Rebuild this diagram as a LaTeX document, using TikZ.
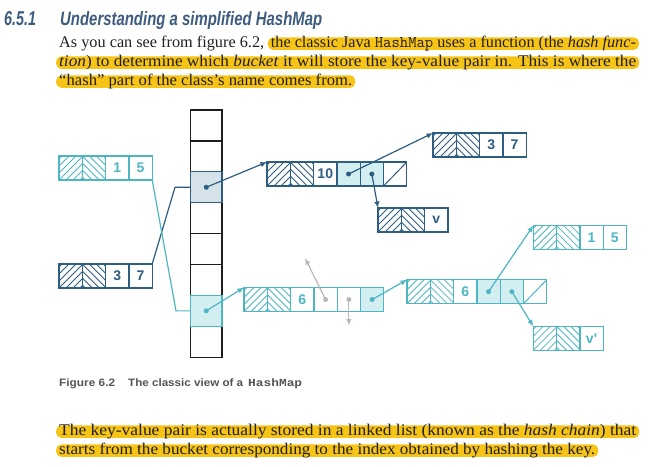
\documentclass[tikz,border=0pt]{standalone}
\usepackage{fontspec}
\usepackage{graphicx}
\usetikzlibrary{arrows.meta,calc}
\newfontfamily\headfont{Liberation Sans}
\newfontfamily\capmono{Liberation Mono}
\newfontfamily\serifbody{Liberation Serif}
\definecolor{dk}{HTML}{2E5D82}
\definecolor{tl}{HTML}{4DB6C3}
\definecolor{tlfill}{HTML}{D3EEF1}
\definecolor{dkfill}{HTML}{D6E2E9}
\definecolor{gr}{HTML}{B8B8B8}
\definecolor{hl}{HTML}{F6C417}
\definecolor{headc}{HTML}{3E5C80}
\definecolor{capc}{HTML}{555555}
\definecolor{bk}{HTML}{1E1E1E}
\definecolor{txt}{HTML}{231F20}
\newcommand\bodyfont{\serifbody\fontsize{16.3}{19}\selectfont\color{txt}}
\begin{document}
\begin{tikzpicture}[x=1pt,y=-1pt,
  cellc/.style={draw=#1, text=#1, line width=1.3pt, minimum width=23.3pt, minimum height=24pt,
    inner sep=0pt, outer sep=0pt, anchor=west, font=\headfont\bfseries\fontsize{14}{14}\selectfont},
  hR/.style={path picture={\foreach \i in {-28,-21,...,28}{\draw[#1,line width=0.8pt]
      ([xshift=\i pt]path picture bounding box.south west) -- ++(24pt,24pt);}}},
  hL/.style={path picture={\foreach \i in {-28,-21,...,28}{\draw[#1,line width=0.8pt]
      ([xshift=\i pt]path picture bounding box.north west) -- ++(24pt,-24pt);}}},
  slash/.style={path picture={\draw[#1,line width=1pt]
      (path picture bounding box.south west) -- (path picture bounding box.north east);}},
  bucket/.style={draw=bk, line width=1.3pt, minimum width=31.5pt, minimum height=30.9pt,
    inner sep=0pt, outer sep=0pt, anchor=north},
  conn/.style={draw=#1, line width=1.2pt},
  arr/.style={draw=#1, line width=1.2pt, -{Latex[length=6.5pt,width=5.5pt]}},
  hlbox/.style={fill=hl, rounded corners=5pt, inner xsep=3pt, inner ysep=0pt,
    text height=9.6pt, text depth=2.8pt, anchor=base west, font=\bodyfont},
  plain/.style={inner sep=0pt, anchor=base west, font=\bodyfont}
]
\useasboundingbox (0,0) rectangle (656,466);
\fill[white] (0,0) rectangle (656,466);

% heading
\node[inner sep=0pt, anchor=base west, text=headc] (hnum) at (4,25)
  {\resizebox{32pt}{14pt}{\headfont\bfseries\itshape 6.5.1}};
\node[inner sep=0pt, anchor=base west, text=headc] (htitle) at (60,25)
  {\resizebox{262pt}{14pt}{\headfont\bfseries\itshape Understanding a simplified HashMap}};

% top paragraph
\node[plain] (l1a) at (59,47) {\resizebox{205pt}{\height}{As you can see from figure 6.2,}};
\node[hlbox] (l1b) at (267.7,47) {\resizebox{365pt}{\height}{the classic Java \texttt{HashMap} uses a function (the \textit{hash func-}}};
\node[hlbox] (l2) at (56,66) {\resizebox{577pt}{\height}{\textit{tion}) to determine which \textit{bucket} it will store the key-value pair in. This is where the}};
\node[hlbox] (l3) at (56,85) {\resizebox{293pt}{\height}{“hash” part of the class’s name comes from.}};

% bucket array
\node[bucket] (k1) at (206.25,110) {};
\node[bucket] (k2) at (k1.south) {};
\node[bucket, fill=dkfill] (k3) at (k2.south) {};
\node[bucket] (k4) at (k3.south) {};
\node[bucket] (k5) at (k4.south) {};
\node[bucket] (k6) at (k5.south) {};
\node[bucket, fill=tlfill] (k7) at (k6.south) {};
\node[bucket] (k8) at (k7.south) {};
\draw[dk, line width=1.3pt] (k3.north west) rectangle (k3.south east);
\draw[tl, line width=1.3pt] (k7.north west) rectangle (k7.south east);

% entry A (dark, 10)
\node[cellc=dk, hR=dk] (a1) at (267,174) {};
\node[cellc=dk, hL=dk] (a2) at (a1.east) {};
\node[cellc=dk] (a3) at (a2.east) {10};
\node[cellc=dk, fill=tlfill] (a4) at (a3.east) {};
\node[cellc=dk, fill=tlfill] (a5) at (a4.east) {};
\node[cellc=dk, slash=dk] (a6) at (a5.east) {};
% entry B (dark, 3 7 top right)
\node[cellc=dk, hR=dk] (b1) at (433,145) {};
\node[cellc=dk, hL=dk] (b2) at (b1.east) {};
\node[cellc=dk] (b3) at (b2.east) {3};
\node[cellc=dk] (b4) at (b3.east) {7};
% entry C (dark, v)
\node[cellc=dk, hR=dk] (c1) at (378,220) {};
\node[cellc=dk, hL=dk] (c2) at (c1.east) {};
\node[cellc=dk] (c3) at (c2.east) {v};
% entry D (dark, 3 7 left)
\node[cellc=dk, hR=dk] (d1) at (59,276) {};
\node[cellc=dk, hL=dk] (d2) at (d1.east) {};
\node[cellc=dk] (d3) at (d2.east) {3};
\node[cellc=dk] (d4) at (d3.east) {7};
% entry E (teal, 1 5 left)
\node[cellc=tl, hR=tl] (e1) at (59,168) {};
\node[cellc=tl, hL=tl] (e2) at (e1.east) {};
\node[cellc=tl] (e3) at (e2.east) {1};
\node[cellc=tl] (e4) at (e3.east) {5};
% entry F (teal, 6 first)
\node[cellc=tl, hR=tl] (f1) at (244,299.5) {};
\node[cellc=tl, hL=tl] (f2) at (f1.east) {};
\node[cellc=tl] (f3) at (f2.east) {6};
\node[cellc=tl] (f4) at (f3.east) {};
\node[cellc=tl] (f5) at (f4.east) {};
\node[cellc=tl, fill=tlfill] (f6) at (f5.east) {};
% entry G (teal, 6 second)
\node[cellc=tl, hR=tl] (g1) at (407,291.7) {};
\node[cellc=tl, hL=tl] (g2) at (g1.east) {};
\node[cellc=tl] (g3) at (g2.east) {6};
\node[cellc=tl, fill=tlfill] (g4) at (g3.east) {};
\node[cellc=tl, fill=tlfill] (g5) at (g4.east) {};
\node[cellc=tl, slash=tl] (g6) at (g5.east) {};
% entry H (teal, 1 5 right)
\node[cellc=tl, hR=tl] (h1) at (533.3,237.5) {};
\node[cellc=tl, hL=tl] (h2) at (h1.east) {};
\node[cellc=tl] (h3) at (h2.east) {1};
\node[cellc=tl] (h4) at (h3.east) {5};
% entry I (teal, v')
\node[cellc=tl, hR=tl] (i1) at (533.3,338.3) {};
\node[cellc=tl, hL=tl] (i2) at (i1.east) {};
\node[cellc=tl] (i3) at (i2.east) {v'};

% connectors from keys to buckets
\coordinate (j1) at (175,187.25);
\coordinate (j2) at (176,310.85);
\draw[conn=dk] (d4.north east) -- (j1) -- (k3.west);
\draw[conn=tl] (e4.south east) -- (j2) -- (k7.west);

% pointer arrows
\draw[arr=dk] (k3.center) -- (a1.north west);
\draw[arr=dk] (a4.center) -- (b1.north west);
\draw[arr=dk] (a5.center) -- (c1.north west);
\draw[arr=tl] (k7.center) -- (f1.north west);
\draw[arr=tl] (f6.center) -- (g1.north west);
\draw[arr=tl] (g4.center) -- (h1.north west);
\draw[arr=tl] (g5.center) -- (i1.north west);
\coordinate (gA) at (305,258);
\coordinate (gB) at ($(f5.center)+(0,26)$);
\draw[arr=gr] (f4.center) -- (gA);
\draw[arr=gr] (f5.center) -- (gB);
\foreach \n in {k3,a4,a5}{\fill[dk] (\n.center) circle (2.5pt);}
\foreach \n in {k7,f6,g4,g5}{\fill[tl] (\n.center) circle (2.5pt);}
\foreach \n in {f4,f5}{\fill[gr] (\n.center) circle (2.5pt);}

% caption
\node[inner sep=0pt, anchor=base west, text=capc] (cap1) at (59,386)
  {\resizebox{56pt}{7.8pt}{\headfont\bfseries Figure 6.2}};
\node[inner sep=0pt, anchor=base west, text=capc] (cap2) at (128,386)
  {\resizebox{115pt}{7.8pt}{\headfont\bfseries The classic view of a}};
\node[inner sep=0pt, anchor=base west, text=capc] (cap3) at (248,386)
  {\resizebox{54pt}{7.8pt}{\capmono\bfseries HashMap}};

% bottom paragraph
\node[hlbox] (m1) at (56,435) {\resizebox{577pt}{\height}{The key-value pair is actually stored in a linked list (known as the \textit{hash chain}) that}};
\node[hlbox] (m2) at (56,454) {\resizebox{536pt}{\height}{starts from the bucket corresponding to the index obtained by hashing the key.}};
\end{tikzpicture}
\end{document}
